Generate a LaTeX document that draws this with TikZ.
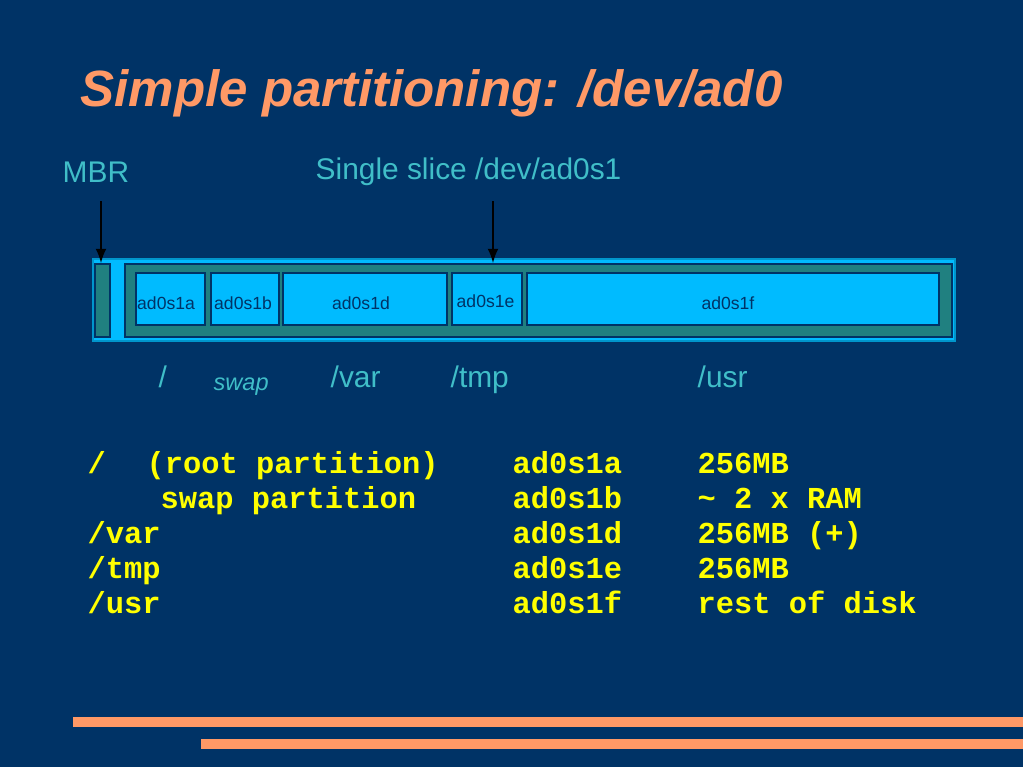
\documentclass[tikz,border=0pt]{standalone}
\usepackage{fontspec}
\setmainfont{Liberation Sans}
\newfontfamily\codefont{Liberation Mono}
\definecolor{slidebg}{RGB}{0,51,102}
\definecolor{salmon}{RGB}{255,153,102}
\definecolor{labelteal}{RGB}{64,190,200}
\definecolor{diskblue}{RGB}{0,187,255}
\definecolor{sliceteal}{RGB}{32,128,128}
\definecolor{codeyellow}{RGB}{255,255,0}
\tikzset{
	part/.style={draw=slidebg, fill=diskblue, line width=0.4pt},
	parttext/.style={font=\fontsize{5}{6}\selectfont, text=slidebg, inner sep=0pt},
	mount/.style={font=\fontsize{8.5}{10}\selectfont, text=labelteal, inner sep=0pt, anchor=base west},
	code/.style={font=\codefont\bfseries\fontsize{8.65}{10}\selectfont, text=codeyellow, inner sep=0pt, anchor=base west},
}
\begin{document}
\begin{tikzpicture}[x=0.01cm, y=-0.01cm]
			\fill[slidebg] (0,0) rectangle (1023,767);
			\useasboundingbox (0,0) rectangle (1023,767);
			% title
			\node[font=\bfseries\itshape\fontsize{14.5}{17}\selectfont, text=salmon, anchor=base west, inner sep=0pt] (title) at (80,107) {Simple partitioning: /dev/ad0};
			% disk, MBR and slice
			\draw[fill=diskblue, draw=diskblue!80!black, line width=0.3pt] (93,259) rectangle (955,341);
			\draw[fill=sliceteal, draw=slidebg, line width=0.4pt] (95,264) rectangle (110,337);
			\draw[fill=sliceteal, draw=slidebg, line width=0.4pt] (125,264) rectangle (952,337);
			\foreach \xa/\xb in {136/205, 211/279, 283/447, 452/522, 527/939}
				\draw[part] (\xa,273) rectangle (\xb,325);
			\node[parttext, anchor=base west] (pa) at (136.5,310) {ad0s1a};
			\node[parttext, anchor=base west] (pb) at (213.5,310) {ad0s1b};
			\node[parttext, anchor=base] (pd) at (361,310) {ad0s1d};
			\node[parttext, anchor=base west] (pe) at (456,308) {ad0s1e};
			\node[parttext, anchor=base] (pf) at (728,310) {ad0s1f};
			% pointers
			\node[mount] (mbr) at (62,183) {MBR};
			\node[mount] (slice) at (315,180) {Single slice /dev/ad0s1};
			\coordinate (mbrtop) at (101,263);
			\coordinate (slicetop) at (493,263);
			\draw[-latex, line width=0.4pt, shorten <=0.18cm] (mbr.base -| mbrtop) -- (mbrtop);
			\draw[-latex, line width=0.4pt, shorten <=0.21cm] (slice.base -| slicetop) -- (slicetop);
			% mount points
			\node[mount] (mroot) at (158,388) {/};
			\node[mount, font=\itshape\fontsize{6.7}{8}\selectfont] (mswap) at (213,391) {swap};
			\node[mount] (mvar) at (330,388) {/var};
			\node[mount] (mtmp) at (450,388) {/tmp};
			\node[mount] (musr) at (697,388) {/usr};
			% table
			\node[code] (r1) at (87,474) {/};
			\node[code] (r1b) at (146,474) {(root partition)};
			\node[code] (r2) at (160,509) {swap partition};
			\node[code] (r3) at (87,544) {/var};
			\node[code] (r4) at (87,579) {/tmp};
			\node[code] (r5) at (87,614) {/usr};
			\node[code] (d1) at (512,474) {ad0s1a};
			\node[code] (d2) at (512,509) {ad0s1b};
			\node[code] (d3) at (512,544) {ad0s1d};
			\node[code] (d4) at (512,579) {ad0s1e};
			\node[code] (d5) at (512,614) {ad0s1f};
			\node[code] (s1) at (697,474) {256MB};
			\node[code] (s2) at (697,509) {\textasciitilde{} 2 x RAM};
			\node[code] (s3) at (697,544) {256MB (+)};
			\node[code] (s4) at (697,579) {256MB};
			\node[code] (s5) at (697,614) {rest of disk};
			% bottom rules
			\fill[salmon] (73,717) rectangle (1023,727);
			\fill[salmon] (201,739) rectangle (1023,749);
		\end{tikzpicture}
\end{document}
